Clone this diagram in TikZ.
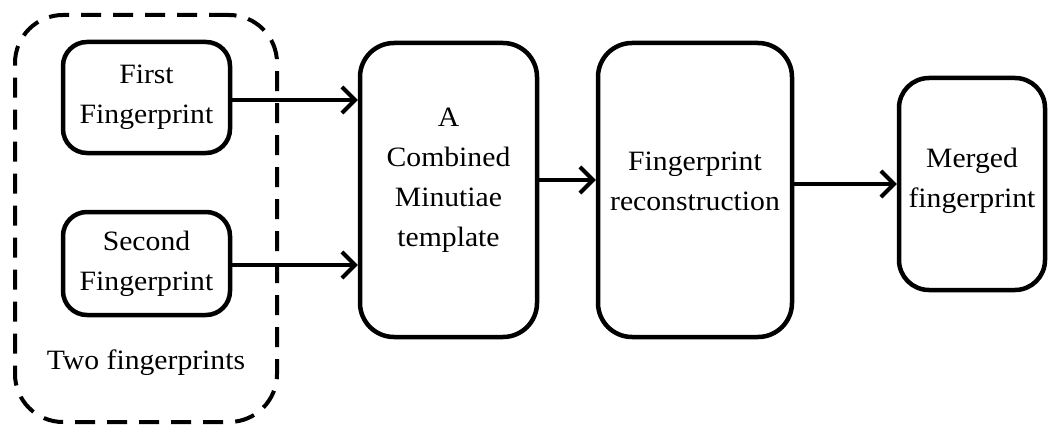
\documentclass[tikz,border=0pt]{standalone}
\usepackage{fontspec}
\setmainfont{Liberation Serif}[FakeStretch=1.06]
\usetikzlibrary{arrows.meta}
\begin{document}
\begin{tikzpicture}[x=1pt,y=-1pt,
  txt/.style={font=\fontsize{28}{40}\selectfont},
  box/.style={draw, line width=4.5pt, rounded corners=#1, inner sep=0pt, align=center, txt},
  box/.default=24pt,
  conn/.style={line width=4.5pt, -{Straight Barb[length=13pt,width=26pt,line width=4pt]}},
  group/.style={draw, dashed, dash pattern=on 20pt off 12pt, line width=4pt, rounded corners=48pt, inner sep=0pt}
]
\useasboundingbox (0,0) rectangle (1050,428);
\node[group, minimum width=262pt, minimum height=407pt,
  label={[txt, yshift=-366pt]north:Two fingerprints}] (grp) at (146,218.5) {};
\node[box, minimum width=167pt, minimum height=111pt] (first) at (146.5,97.5) {First\\Fingerprint};
\node[box, minimum width=167pt, minimum height=103pt] (second) at (146.5,263.5) {Second\\Fingerprint};
\node[box=34pt, minimum width=177pt, minimum height=294pt,
  label={[align=center, txt, yshift=10pt]center:A\\Combined\\Minutiae\\template}] (comb) at (448.5,190) {};
\node[box=34pt, minimum width=194pt, minimum height=294pt,
  label={[align=center, txt, yshift=9pt]center:Fingerprint\\reconstruction}] (recon) at (695,190) {};
\node[box=30pt, minimum width=146pt, minimum height=212pt,
  label={[align=center, txt, yshift=3pt]center:Merged\\fingerprint}] (merged) at (972,184) {};
\draw[conn] ([yshift=-2.5pt]first.east) -- ([yshift=-2.5pt]first.east -| comb.west);
\draw[conn] ([yshift=-1.5pt]second.east) -- ([yshift=-1.5pt]second.east -| comb.west);
\draw[conn] ([yshift=10pt]comb.east) -- ([yshift=10pt]comb.east -| recon.west);
\draw[conn] (recon.east |- merged.west) -- (merged.west);
\end{tikzpicture}
\end{document}
